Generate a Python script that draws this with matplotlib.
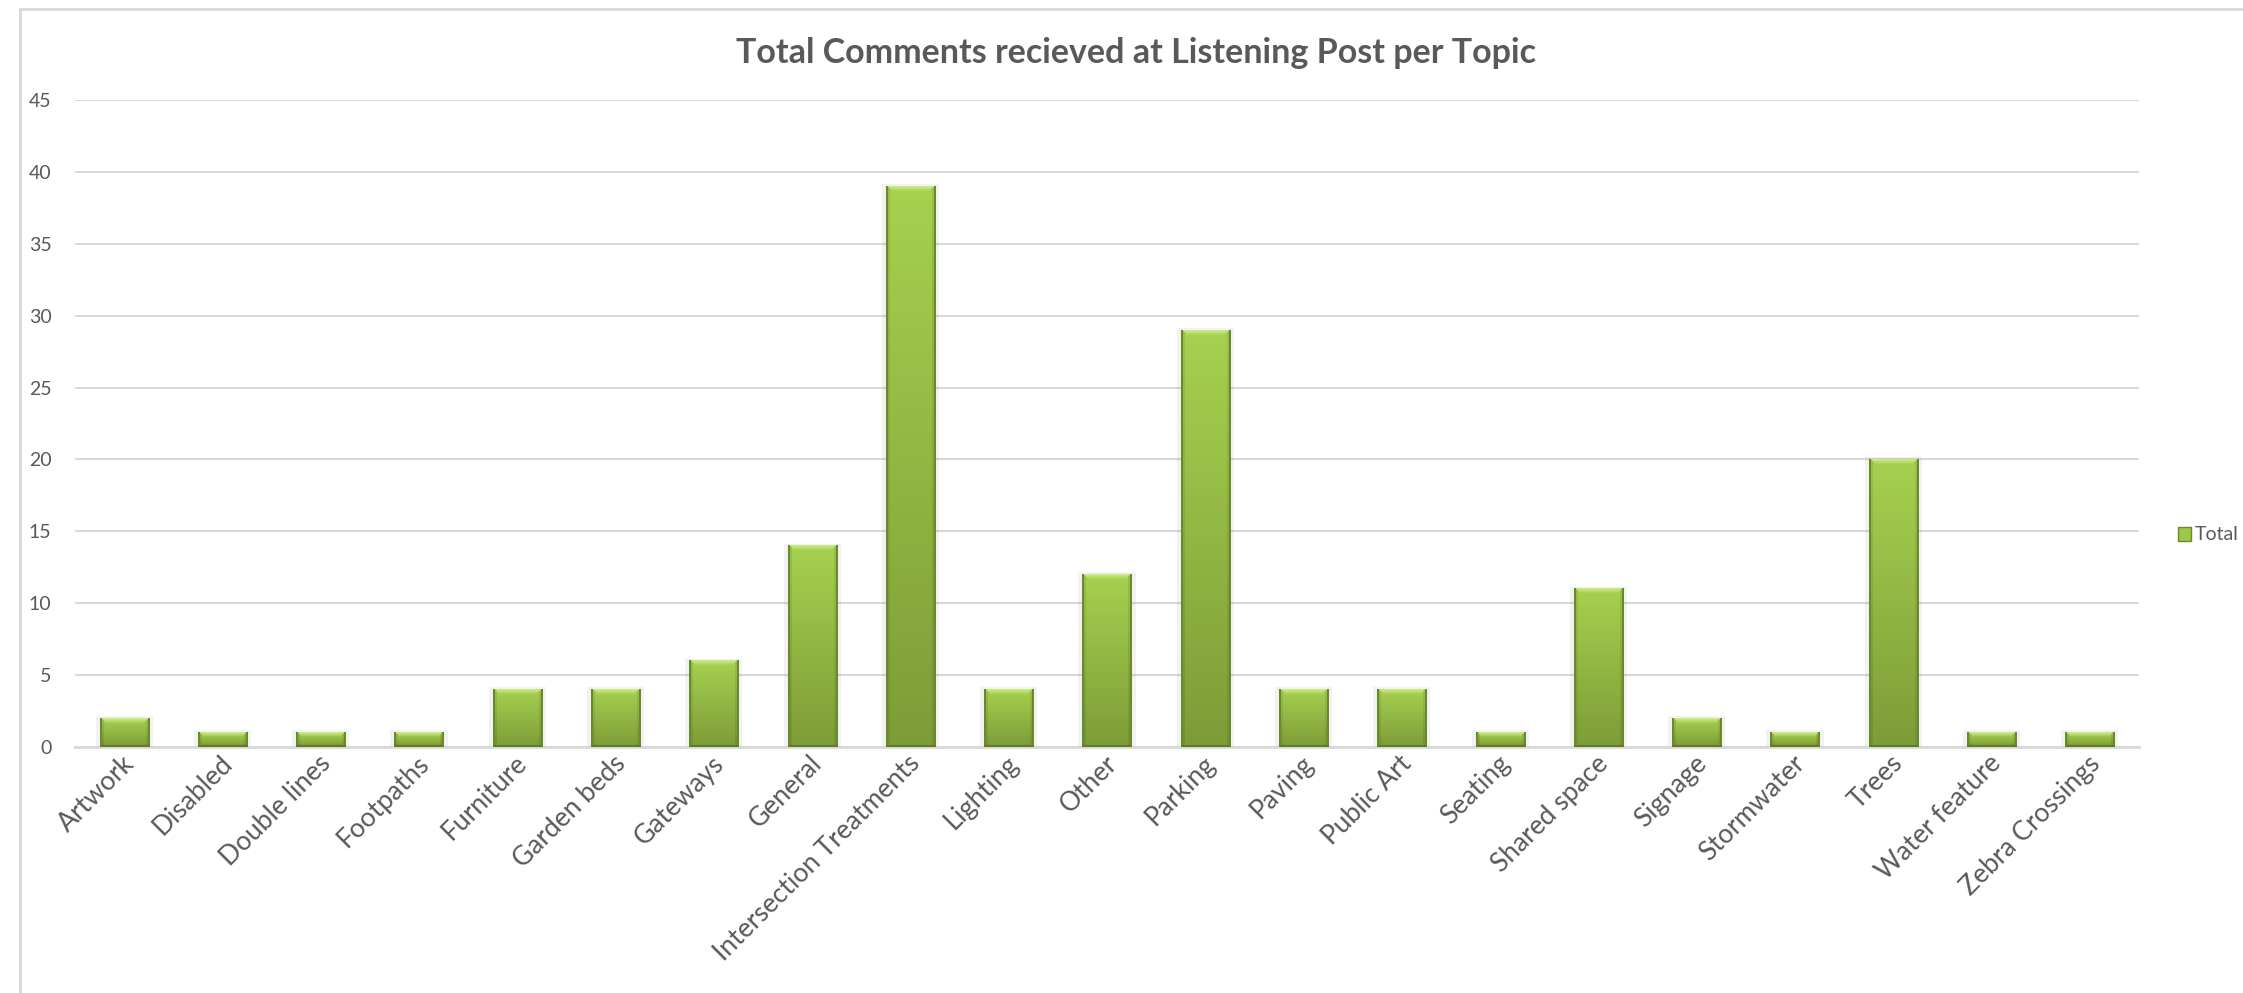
import numpy as np
import matplotlib.pyplot as plt
import matplotlib.transforms as mtransforms
from matplotlib.patches import Rectangle
from matplotlib.colors import to_rgb

topics = ['Artwork', 'Disabled', 'Double lines', 'Footpaths', 'Furniture', 'Garden beds',
          'Gateways', 'General', 'Intersection Treatments', 'Lighting', 'Other', 'Parking',
          'Paving', 'Public Art', 'Seating', 'Shared space', 'Signage', 'Stormwater',
          'Trees', 'Water feature', 'Zebra Crossings']
totals = [2, 1, 1, 1, 4, 4, 6, 14, 39, 4, 12, 29, 4, 4, 1, 11, 2, 1, 20, 1, 1]
yticks = [0, 5, 10, 15, 20, 25, 30, 35, 40, 45]

txt = '#595959'
grid = '#d9d9d9'
plt.rcParams['font.family'] = ['Lato', 'DejaVu Sans']

W, H, DPI = 2243, 993, 100
fig = plt.figure(figsize=(W / DPI, H / DPI), dpi=DPI)
ax = fig.add_axes([75 / W, 1 - 747 / H, (2139 - 75) / W, (747 - 100) / H])

# chart frame
fig.patches.append(Rectangle((20 / W, -0.1), 1.2, 1 - 9 / H + 0.1, transform=fig.transFigure,
                             fill=False, edgecolor='#d9d9d9', linewidth=2, zorder=0))

x = np.arange(len(topics))
bars = ax.bar(x, totals, width=0.5, color='#94bd45', edgecolor='none', zorder=2)

ax.set_xlim(-0.5, len(topics) - 0.5)
ax.set_ylim(0, 45)
ax.set_yticks(yticks)
ax.set_xticks(x)
ax.set_xticklabels(topics, rotation=45, ha='right', va='center', rotation_mode='anchor',
                   fontsize=19, color=txt)
ax.tick_params(axis='x', length=0, pad=9)
ax.tick_params(axis='y', length=0, pad=17, labelsize=14, labelcolor=txt)
shift = mtransforms.ScaledTranslation(0.06, 0, fig.dpi_scale_trans)
for lab in ax.get_xticklabels():
    lab.set_transform(lab.get_transform() + shift)
ax.yaxis.grid(True, color=grid, linewidth=1.5, zorder=0)
ax.set_axisbelow(True)
for s in ['top', 'right', 'left']:
    ax.spines[s].set_visible(False)
ax.spines['bottom'].set_color(grid)
ax.spines['bottom'].set_linewidth(2)


def bevel_image(h_px, w_px):
    top = np.array(to_rgb('#a6d14f'))
    bot = np.array(to_rgb('#7d9c38'))
    t = np.linspace(0, 1, h_px)[:, None, None]
    img = top * (1 - t) + bot * t
    img = np.repeat(img, w_px, axis=1)
    edge = np.array(to_rgb('#6a8a2a'))
    img[:, :2] = edge
    img[:, -2:] = edge
    img[:, 2:4] = img[:, 2:4] * 0.92
    img[:, -4:-2] = img[:, -4:-2] * 0.92
    hl = np.array(to_rgb('#cbe985'))
    k = min(5, max(h_px // 3, 1))
    for r in range(k):
        a = 1 - r / k
        img[r, r + 2:w_px - r - 2] = hl * a + img[r, r + 2:w_px - r - 2] * (1 - a)
    img[-2:] = np.array(to_rgb('#5f7d25'))
    return img


px_per_unit = (747 - 100) / 45
for b in bars:
    bx, bw, bh = b.get_x(), b.get_width(), b.get_height()
    ax.add_patch(Rectangle((bx - 0.04, -0.1), bw + 0.08, bh + 0.25, facecolor='#000000',
                           alpha=0.05, edgecolor='none', zorder=1.5))
    img = bevel_image(max(int(bh * px_per_unit), 4), 50)
    ax.imshow(img, extent=(bx, bx + bw, 0, bh), aspect='auto', zorder=3, interpolation='bilinear')
ax.set_xlim(-0.5, len(topics) - 0.5)
ax.set_ylim(0, 45)

fig.text(1136 / W, 1 - 53 / H, 'Total Comments recieved at Listening Post per Topic',
         fontsize=24.5, fontweight='bold', color=txt, ha='center', va='center')

handle = Rectangle((0, 0), 1, 1, facecolor='#9cc748', edgecolor='#6a8a2a', linewidth=1)
fig.legend([handle], ['Total'], loc='center left', bbox_to_anchor=(2160 / W, 1 - 535 / H),
           frameon=False, fontsize=14, labelcolor=txt, handlelength=0.7, handleheight=0.7,
           handletextpad=0.2)

fig.savefig('out.png', dpi=DPI, facecolor='white')
